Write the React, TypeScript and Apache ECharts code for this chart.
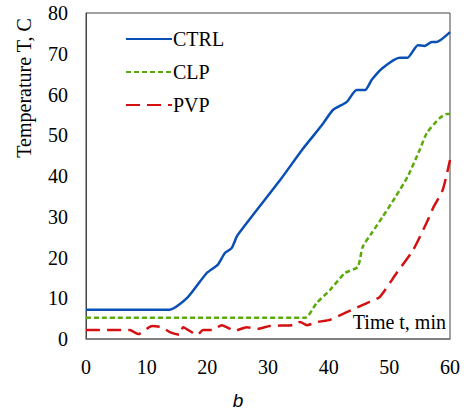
import React, { useEffect, useRef } from "react";
import * as echarts from "echarts";

const seriesNames = ["CTRL", "CLP", "PVP"];

const ctrlTime = [0, 13.8, 16.8, 19.9, 21.7, 22.9, 24, 25, 32, 35.6, 38.9, 40.7, 43, 44.6, 46, 47.1, 48.9, 51.7, 53, 54.7, 55.8, 57, 57.8, 60];
const ctrlTemp = [7.2, 7.2, 10.3, 16.2, 18.2, 21.1, 22.3, 25.5, 39, 46.4, 52.5, 56.2, 58.2, 61.1, 61.1, 63.6, 66.5, 69, 69, 72.1, 71.9, 72.9, 72.9, 75.3];

const clpTime = [0, 36.1, 38, 40.2, 42.7, 44.8, 45.6, 47.1, 48.9, 50.9, 53, 55, 56.2, 58.3, 59.5, 60];
const clpTemp = [5.2, 5.2, 8.8, 12, 16.2, 17.7, 22.6, 26, 30, 34.6, 39.8, 46.4, 50.6, 54.2, 55.2, 55.2];

const pvpTime = [0, 7.2, 8.6, 10.9, 12.5, 13.8, 15.5, 16, 18.3, 19.3, 20.8, 22.4, 24.5, 26.5, 28.3, 30.3, 34.1, 35.3, 36.4, 38.2, 40.2, 42.7, 46.3, 48.4, 51.2, 53.9, 56.2, 57.2, 58.8, 60];
const pvpTemp = [2.2, 2.2, 1.2, 3.2, 2.9, 1.7, 1.0, 2.9, 1.0, 2.2, 2.2, 3.4, 2.0, 2.9, 2.5, 3.2, 3.4, 4.2, 3.4, 4.2, 4.7, 6.4, 8.8, 10.3, 16.2, 21.8, 28.7, 32.1, 36.6, 43.9];

const xTicks = [0, 10, 20, 30, 40, 50, 60];
const yTicks = [0, 10, 20, 30, 40, 50, 60, 70, 80];

const zip = (a: number[], b: number[]) => a.map((t, i) => [t, b[i]]);

export default function App() {
  const ref = useRef<HTMLDivElement>(null);
  useEffect(() => {
    if (!ref.current) return;
    const chart = echarts.init(ref.current, undefined, { renderer: "svg" });
    const serif = "'Liberation Serif', 'Times New Roman', serif";
    chart.setOption({
      animation: false,
      backgroundColor: "#fff",
      grid: {
        left: 86,
        right: 17,
        top: 13,
        bottom: 73,
        show: true,
        borderColor: "#444",
        borderWidth: 1,
      },
      legend: {
        orient: "vertical",
        left: 120,
        top: 24,
        itemWidth: 46,
        itemHeight: 18,
        itemGap: 13,
        itemStyle: { opacity: 0 },
        textStyle: { fontFamily: serif, fontSize: 20, color: "#000", padding: [0, 0, 0, -4] },
        data: seriesNames,
      },
      xAxis: {
        type: "value",
        min: xTicks[0],
        max: xTicks[xTicks.length - 1],
        interval: 10,
        axisLine: { show: true, lineStyle: { color: "#777", width: 1.5 } },
        axisTick: { show: false },
        splitLine: { show: false },
        axisLabel: { fontFamily: serif, fontSize: 20, color: "#000", margin: 18 },
      },
      yAxis: {
        type: "value",
        min: yTicks[0],
        max: yTicks[yTicks.length - 1],
        interval: 10,
        axisLine: { show: true, lineStyle: { color: "#444", width: 1 } },
        axisTick: { show: false },
        splitLine: { show: false },
        axisLabel: { fontFamily: serif, fontSize: 20, color: "#000", margin: 18 },
      },
      series: [
        {
          name: seriesNames[0],
          type: "line",
          data: zip(ctrlTime, ctrlTemp),
          symbol: "none",
          smooth: 0.2,
          lineStyle: { color: "#0a50b4", width: 2.5, type: "solid" },
          itemStyle: { color: "#0a50b4" },
        },
        {
          name: seriesNames[1],
          type: "line",
          data: zip(clpTime, clpTemp),
          symbol: "none",
          smooth: 0.2,
          lineStyle: { color: "#5aaa0a", width: 2.5, type: [5, 3] },
          itemStyle: { color: "#5aaa0a" },
        },
        {
          name: seriesNames[2],
          type: "line",
          data: zip(pvpTime, pvpTemp),
          symbol: "none",
          smooth: 0.2,
          lineStyle: { color: "#d41010", width: 2.5, type: [14, 7] },
          itemStyle: { color: "#d41010" },
        },
      ],
      graphic: [
        {
          type: "text",
          x: 24,
          y: 88,
          rotation: Math.PI / 2,
          style: {
            text: "Temperature T, C",
            font: `20px ${serif}`,
            fill: "#000",
            align: "center",
            verticalAlign: "middle",
          },
        },
        {
          type: "text",
          x: 446,
          y: 322,
          style: {
            text: "Time t, min",
            font: `20px ${serif}`,
            fill: "#000",
            align: "right",
            verticalAlign: "middle",
          },
        },
        {
          type: "text",
          x: 238,
          y: 400,
          style: {
            text: "b",
            font: `italic 19px 'Liberation Sans', Arial, sans-serif`,
            fill: "#000",
            align: "center",
            verticalAlign: "middle",
          },
        },
      ],
    });
    return () => chart.dispose();
  }, []);
  return <div ref={ref} style={{ width: 467, height: 412, position: "absolute", left: 0, top: 0 }} />;
}
